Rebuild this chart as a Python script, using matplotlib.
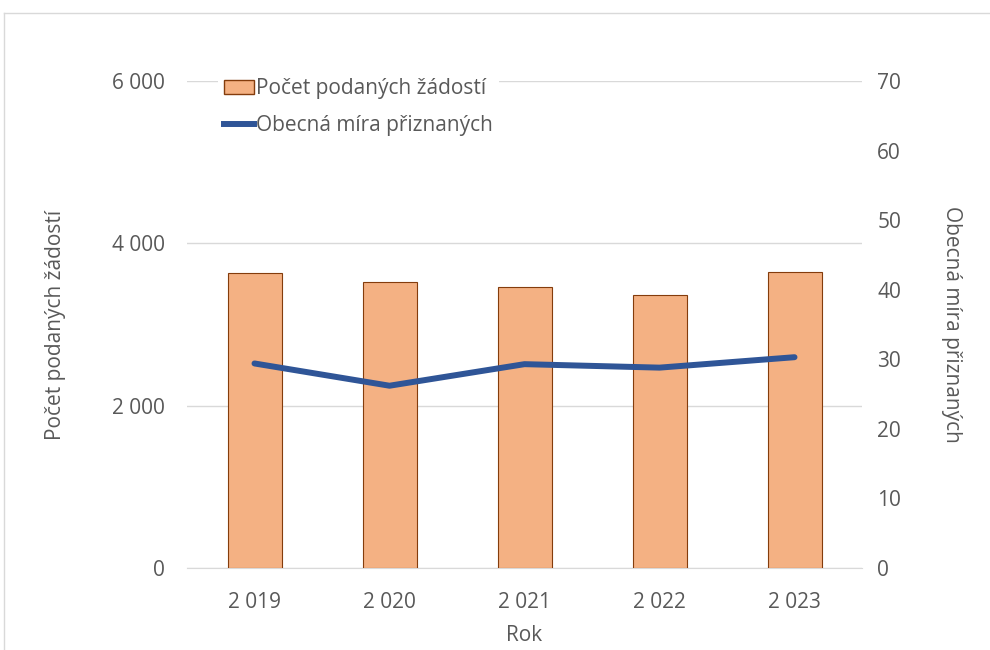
import numpy as np
import matplotlib.pyplot as plt
from matplotlib.lines import Line2D
from matplotlib.ticker import FuncFormatter

plt.rcParams['font.family'] = ['Open Sans', 'DejaVu Sans']

# data
roky = ['2 019', '2 020', '2 021', '2 022', '2 023']
zadosti = [3640, 3525, 3465, 3360, 3645]
mira = [29.4, 26.2, 29.3, 28.8, 30.3]

seda = '#595959'
fs = 15

fig = plt.figure(figsize=(9.9, 6.5), dpi=100)
ax = fig.add_axes([187 / 990, 1 - 568 / 650, 675 / 990, 487 / 650])
ax2 = ax.twinx()

x = np.arange(len(roky))
ax.bar(x, zadosti, width=0.4, color='#F4B183', edgecolor='#843C0C', linewidth=0.8,
       label='Počet podaných žádostí', zorder=3)
ax2.plot(x, mira, color='#2F5597', linewidth=4.3, solid_capstyle='round',
         label='Obecná míra přiznaných', zorder=4)

ax.set_xlim(-0.5, len(roky) - 0.5)
ax.set_ylim(0, 6000)
ax.set_yticks([0, 2000, 4000, 6000])
ax.yaxis.set_major_formatter(FuncFormatter(lambda v, p: f'{int(v):,}'.replace(',', ' ')))
ax2.set_ylim(0, 70)
ax2.set_yticks(range(0, 71, 10))

ax.set_xticks(x)
ax.set_xticklabels(roky)
ax.grid(axis='y', color='#d9d9d9', linewidth=1, zorder=0)
ax.set_axisbelow(True)

for a in (ax, ax2):
    for s in a.spines.values():
        s.set_visible(False)
    a.tick_params(length=0, labelsize=fs, colors=seda)
ax.spines['bottom'].set_visible(True)
ax.spines['bottom'].set_color('#d9d9d9')
ax.tick_params(axis='y', pad=16)
ax.tick_params(axis='x', pad=17)
ax2.tick_params(axis='y', pad=11)

ax.set_xlabel('Rok', fontsize=fs, color=seda, labelpad=9)
ax.set_ylabel('Počet podaných žádostí', fontsize=fs, color=seda, labelpad=33)
ax2.set_ylabel('Obecná míra přiznaných', fontsize=fs, color=seda, rotation=270,
               labelpad=44)

handles = [plt.Rectangle((0, 0), 1, 1, facecolor='#F4B183', edgecolor='#843C0C'),
           Line2D([0], [0], color='#2F5597', linewidth=4.3)]
leg = ax2.legend(handles, ['Počet podaných žádostí', 'Obecná míra přiznaných'],
                 loc='upper left', bbox_to_anchor=(0.03, 1.04), frameon=True,
                 fontsize=fs, handlelength=1.45, handletextpad=0.1, borderpad=0.3,
                 labelspacing=0.75)
leg.get_frame().set_edgecolor('none')
leg.get_frame().set_facecolor('white')
leg.get_frame().set_alpha(1)
for t in leg.get_texts():
    t.set_color(seda)

# ramecek kolem grafu
fig.add_artist(Line2D([4 / 990, 4 / 990], [0, 1 - 13 / 650], color='#d9d9d9', linewidth=1))
fig.add_artist(Line2D([4 / 990, 1], [1 - 13 / 650, 1 - 13 / 650], color='#d9d9d9', linewidth=1))

plt.savefig('out.png', dpi=100)
